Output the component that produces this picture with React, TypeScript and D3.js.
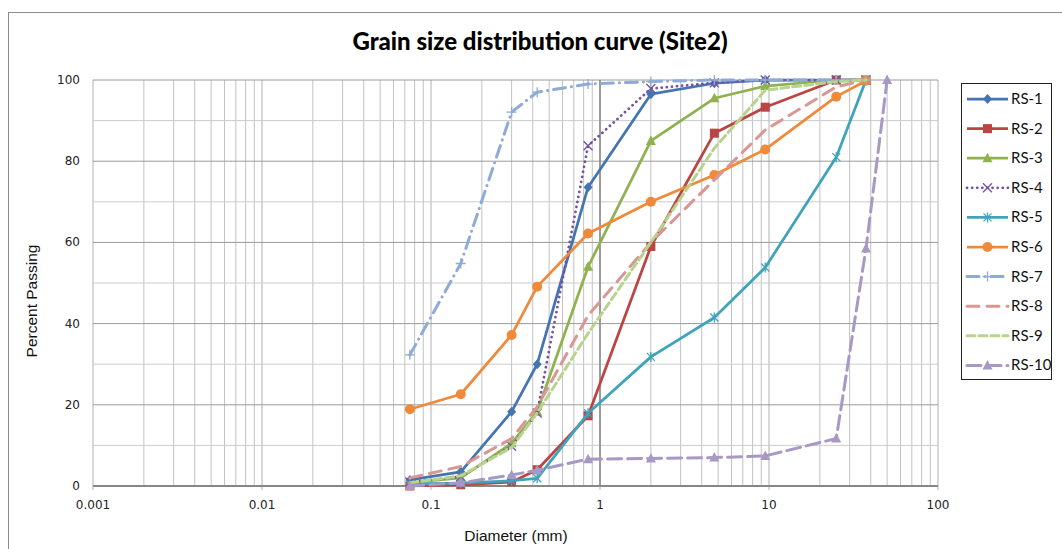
import React from "react";
import * as d3 from "d3";

const sieves = [0.075, 0.15, 0.3, 0.425, 0.85, 2, 4.75, 9.5, 25, 37.5, 50];
const seriesNames = ["RS-1", "RS-2", "RS-3", "RS-4", "RS-5", "RS-6", "RS-7", "RS-8", "RS-9", "RS-10"];
const rs1 = [1.5, 3.5, 18.3, 30, 73.6, 96.5, 99.2, 100, 100, 100];
const rs2 = [0, 0.3, 1, 4, 17.3, 59, 86.9, 93.3, 100, 100];
const rs3 = [0.8, 2, 10.5, 18.3, 54, 85, 95.5, 98.5, 100, 100];
const rs4 = [1, 2.3, 9.8, 18, 83.8, 97.9, 99.3, 100, 100, 100];
const rs5 = [0.5, 0.7, 1.3, 1.9, 17.9, 31.8, 41.5, 53.8, 81, 100];
const rs6 = [18.9, 22.6, 37.2, 49.1, 62.2, 70, 76.6, 82.9, 95.9, 99.8];
const rs7 = [32.3, 54.8, 92.1, 97, 99, 99.6, 100, 100, 100, 100];
const rs8 = [2, 4.8, 11.7, 19.5, 42, 60, 75.4, 87.7, 98.3, 100];
const rs9 = [0.8, 2.5, 9.5, 18, 37.6, 60, 83.2, 97.5, 99.6, 100];
const rs10 = [0, 0.8, 2.7, 3.9, 6.6, 6.8, 7, 7.4, 11.7, 58.5, 100];
const seriesValues = [rs1, rs2, rs3, rs4, rs5, rs6, rs7, rs8, rs9, rs10];

const xTicks = [0.001, 0.01, 0.1, 1, 10, 100];
const xTickLabels = ["0.001", "0.01", "0.1", "1", "10", "100"];
const yTicks = [0, 20, 40, 60, 80, 100];

const titleText = "Grain size distribution curve (Site2)";
const xTitle = "Diameter (mm)";
const yTitle = "Percent Passing";

type Style = { color: string; dash: string; marker: string; width: number };
const styles: Style[] = [
  { color: "#4575B0", dash: "", marker: "diamond", width: 2.75 },
  { color: "#BB4542", dash: "", marker: "square", width: 2.75 },
  { color: "#8FB24F", dash: "", marker: "triangle", width: 2.75 },
  { color: "#7452A0", dash: "0.1,5", marker: "x", width: 2.75 },
  { color: "#3FA3BC", dash: "", marker: "asterisk", width: 2.75 },
  { color: "#EF8A3A", dash: "", marker: "circle", width: 2.75 },
  { color: "#8EAAD7", dash: "12,6,0.1,6", marker: "plus", width: 3 },
  { color: "#D99694", dash: "12,8", marker: "none", width: 3 },
  { color: "#B8D38E", dash: "8,4", marker: "none", width: 3 },
  { color: "#A798C6", dash: "14,6", marker: "triangle", width: 3 },
];

function Marker({ kind, x, y, color }: { kind: string; x: number; y: number; color: string }) {
  const s = 4.5;
  switch (kind) {
    case "diamond":
      return <path d={`M${x},${y - s - 0.5}L${x + s},${y}L${x},${y + s + 0.5}L${x - s},${y}Z`} fill={color} />;
    case "square":
      return <rect x={x - 4.5} y={y - 4.5} width={9} height={9} fill={color} />;
    case "triangle":
      return <path d={`M${x},${y - 5.5}L${x + 5},${y + 4}L${x - 5},${y + 4}Z`} fill={color} />;
    case "circle":
      return <circle cx={x} cy={y} r={5} fill={color} />;
    case "x":
      return (
        <path d={`M${x - 4.5},${y - 4.5}L${x + 4.5},${y + 4.5}M${x - 4.5},${y + 4.5}L${x + 4.5},${y - 4.5}`} stroke={color} strokeWidth={1.3} fill="none" />
      );
    case "asterisk":
      return (
        <path
          d={`M${x - 4},${y - 4}L${x + 4},${y + 4}M${x - 4},${y + 4}L${x + 4},${y - 4}M${x},${y - 5}L${x},${y + 5}`}
          stroke={color}
          strokeWidth={1.3}
          fill="none"
        />
      );
    case "plus":
      return <path d={`M${x - 5},${y}L${x + 5},${y}M${x},${y - 5}L${x},${y + 5}`} stroke={color} strokeWidth={1.3} fill="none" />;
    default:
      return null;
  }
}

export default function App() {
  const W = 1062;
  const H = 549;
  const left = 93;
  const right = 938;
  const top = 80;
  const bottom = 486;
  const x = d3.scaleLog().domain([0.001, 100]).range([left, right]);
  const y = d3.scaleLinear().domain([0, 100]).range([bottom, top]);

  const minorX: number[] = [];
  for (let e = -3; e < 2; e++) {
    for (let k = 2; k <= 9; k++) minorX.push(k * Math.pow(10, e));
  }
  const minorY = d3.range(10, 100, 20);

  const line = d3
    .line<[number, number]>()
    .x((d) => x(d[0]))
    .y((d) => y(d[1]));

  const legendX = 961;
  const legendY = 83;
  const legendStep = 29.6;

  return (
    <svg width={W} height={H} style={{ position: "absolute", left: 0, top: 0 }} fontFamily="'Liberation Sans', Arial, sans-serif">
      <rect x={0} y={0} width={W} height={H} fill="#fff" />
      <rect x={8.5} y={12.5} width={1070} height={560} fill="#fff" stroke="#8c8c8c" strokeWidth={1} />
      <text x={540} y={50} textAnchor="middle" fontFamily="Lato, 'Open Sans', sans-serif" fontWeight={900} fontSize={24} fill="#000">
        {titleText}
      </text>

      {/* gridlines */}
      {minorX.map((v, i) => (
        <line key={"mx" + i} x1={x(v)} x2={x(v)} y1={top} y2={bottom} stroke="#c2c2c2" strokeWidth={1} />
      ))}
      {xTicks.map((v, i) => (
        <line key={"Mx" + i} x1={x(v)} x2={x(v)} y1={top} y2={bottom + 4} stroke="#b0b0b0" strokeWidth={1} />
      ))}
      {minorY.map((v, i) => (
        <line key={"my" + i} x1={left} x2={right} y1={y(v)} y2={y(v)} stroke="#cccccc" strokeWidth={1} />
      ))}
      {yTicks.map((v, i) => (
        <line key={"My" + i} x1={left} x2={right} y1={y(v)} y2={y(v)} stroke="#9a9a9a" strokeWidth={1} />
      ))}
      {/* vertical axis crossing at 1 */}
      <line x1={x(1)} x2={x(1)} y1={top} y2={bottom} stroke="#878787" strokeWidth={1.5} />
      <line x1={left} x2={right} y1={bottom} y2={bottom} stroke="#878787" strokeWidth={2} />

      {/* tick labels */}
      {xTicks.map((v, i) => (
        <text key={"xt" + i} x={x(v)} y={509} textAnchor="middle" fontFamily="'DejaVu Sans', Verdana, sans-serif" fontSize={12} fill="#222">
          {xTickLabels[i]}
        </text>
      ))}
      {yTicks.map((v, i) => (
        <text key={"yt" + i} x={80} y={y(v) + 4} textAnchor="end" fontFamily="'DejaVu Sans', Verdana, sans-serif" fontSize={12} fill="#222">
          {String(v)}
        </text>
      ))}
      <text x={516} y={541} textAnchor="middle" fontSize={15.5} fill="#111">
        {xTitle}
      </text>
      <text transform={`translate(37,301) rotate(-90)`} textAnchor="middle" fontSize={15.5} fill="#111">
        {yTitle}
      </text>

      {/* series */}
      {seriesValues.map((vals, si) => {
        const pts: [number, number][] = vals.map((v, i) => [sieves[i], v]);
        const st = styles[si];
        return (
          <g key={"s" + si}>
            <path
              d={line(pts) || ""}
              fill="none"
              stroke={st.color}
              strokeWidth={st.width}
              strokeDasharray={st.dash || undefined}
              strokeLinecap={st.dash ? "round" : "butt"}
              strokeLinejoin="round"
            />
            {pts.map((p, i) => (
              <Marker key={i} kind={st.marker} x={x(p[0])} y={y(p[1])} color={st.color} />
            ))}
          </g>
        );
      })}

      {/* legend */}
      <rect x={legendX + 0.5} y={legendY + 0.5} width={90} height={296} fill="#fff" stroke="#222" strokeWidth={1} />
      {seriesNames.map((name, i) => {
        const st = styles[i];
        const ly = legendY + 16 + i * legendStep;
        return (
          <g key={"l" + i}>
            <line
              x1={967}
              x2={1008}
              y1={ly}
              y2={ly}
              stroke={st.color}
              strokeWidth={st.width}
              strokeDasharray={st.dash || undefined}
              strokeLinecap={st.dash ? "round" : "butt"}
            />
            <Marker kind={st.marker} x={987.5} y={ly} color={st.color} />
            <text x={1011} y={ly + 5} fontFamily="Lato, 'Open Sans', sans-serif" fontSize={15} fill="#111">
              {name}
            </text>
          </g>
        );
      })}
    </svg>
  );
}
